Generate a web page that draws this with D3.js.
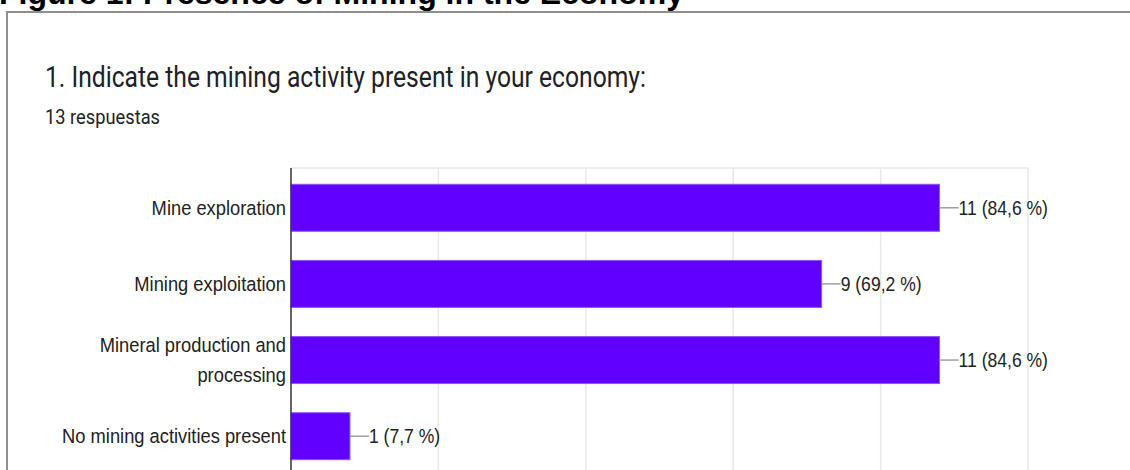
<!DOCTYPE html>
<html>
<head>
<meta charset="utf-8">
<script src="https://cdn.jsdelivr.net/npm/d3@7"></script>
<style>
  html, body { margin: 0; padding: 0; background: #ffffff; overflow: hidden; }
  svg { display: block; }
</style>
</head>
<body>
<svg id="chart" width="1130" height="470"></svg>
<script>
// Survey answers: mining activity present in each economy
const categories = [
  "Mine exploration",
  "Mining exploitation",
  "Mineral production and processing",
  "No mining activities present"
];
const counts = [11, 9, 11, 1];
const percents = ["84,6", "69,2", "84,6", "7,7"];
const totalResponses = 13;
const gridTicks = [0, 2.5, 5, 7.5, 10, 12.5];

const figureTitle = "Figure 1: Presence of Mining in the Economy";
const questionTitle = "1. Indicate the mining activity present in your economy:";
const responsesLabel = totalResponses + " respuestas";

// Label lines (long category wraps onto two lines)
const labelLines = [
  ["Mine exploration"],
  ["Mining exploitation"],
  ["Mineral production and", "processing"],
  ["No mining activities present"]
];

const svg = d3.select("#chart");

// Figure caption above the frame
svg.append("text")
  .attr("x", -1).attr("y", 4)
  .attr("font-family", "Liberation Sans, Arial, sans-serif")
  .attr("font-weight", "bold")
  .attr("font-size", 32)
  .attr("textLength", 685)
  .attr("lengthAdjust", "spacingAndGlyphs")
  .attr("fill", "#000")
  .text(figureTitle);

// Card frame
svg.append("path")
  .attr("d", "M7,480 V12 H1140")
  .attr("fill", "none")
  .attr("stroke", "#8f8f8f")
  .attr("stroke-width", 2);

// Question title and response count
svg.append("text")
  .attr("x", 45).attr("y", 87)
  .attr("font-family", "Roboto, sans-serif")
  .attr("font-size", 30)
  .attr("textLength", 601)
  .attr("lengthAdjust", "spacingAndGlyphs")
  .attr("fill", "#202124")
  .text(questionTitle);

svg.append("text")
  .attr("x", 45).attr("y", 124)
  .attr("font-family", "Roboto, sans-serif")
  .attr("font-size", 19.5)
  .attr("textLength", 115)
  .attr("lengthAdjust", "spacingAndGlyphs")
  .attr("fill", "#202124")
  .text(responsesLabel);

// Scales
const x = d3.scaleLinear().domain([0, 12.5]).range([291, 1028]);
const y = d3.scaleBand()
  .domain(categories)
  .range([168, 476])
  .paddingInner(0.383)
  .paddingOuter(0.214);

// Vertical gridlines and top border of plot area
const grid = svg.append("g").attr("class", "grid");
grid.selectAll("line.v")
  .data(gridTicks.slice(1))
  .join("line")
  .attr("class", "v")
  .attr("x1", d => x(d)).attr("x2", d => x(d))
  .attr("y1", y.range()[0]).attr("y2", y.range()[1])
  .attr("stroke", "#e8e8e8")
  .attr("stroke-width", 1.5);
grid.append("line")
  .attr("x1", x(0)).attr("x2", x(12.5))
  .attr("y1", y.range()[0]).attr("y2", y.range()[0])
  .attr("stroke", "#e8e8e8")
  .attr("stroke-width", 1.5);

// Bars
svg.append("g")
  .selectAll("rect")
  .data(categories)
  .join("rect")
  .attr("x", x(0))
  .attr("y", d => y(d))
  .attr("width", (d, i) => x(counts[i]) - x(0))
  .attr("height", y.bandwidth())
  .attr("fill", "#6200ff")
  .attr("stroke", "#8c55ff")
  .attr("stroke-width", 1);

// Baseline axis
svg.append("line")
  .attr("x1", x(0)).attr("x2", x(0))
  .attr("y1", y.range()[0]).attr("y2", y.range()[1])
  .attr("stroke", "#333")
  .attr("stroke-width", 1.5);

// Narrow text helper: slightly condensed horizontally
const squeeze = 0.94;

// Category labels, right aligned against the axis
const labels = svg.append("g")
  .attr("font-family", "Liberation Sans, Arial, sans-serif")
  .attr("font-size", 19.5)
  .attr("fill", "#222")
  .attr("text-anchor", "end");

categories.forEach((c, i) => {
  const lines = labelLines[i];
  const cy = y(c) + y.bandwidth() / 2;
  const lh = 30;
  lines.forEach((ln, j) => {
    const ty = cy + 7 + (j - (lines.length - 1) / 2) * lh;
    labels.append("text")
      .attr("transform", `translate(${x(0) - 5},${ty}) scale(${squeeze},1)`)
      .text(ln);
  });
});

// Value callouts with leader lines
const callouts = svg.append("g");
categories.forEach((c, i) => {
  const cy = y(c) + y.bandwidth() / 2;
  const x0 = x(counts[i]);
  callouts.append("line")
    .attr("x1", x0).attr("x2", x0 + 19)
    .attr("y1", cy).attr("y2", cy)
    .attr("stroke", "#9e9e9e")
    .attr("stroke-width", 1.5);
  callouts.append("text")
    .attr("transform", `translate(${x0 + 19},${cy + 7}) scale(0.9,1)`)
    .attr("font-family", "Liberation Sans, Arial, sans-serif")
    .attr("font-size", 19.5)
    .attr("fill", "#222")
    .text(`${counts[i]} (${percents[i]} %)`);
});
</script>
</body>
</html>
